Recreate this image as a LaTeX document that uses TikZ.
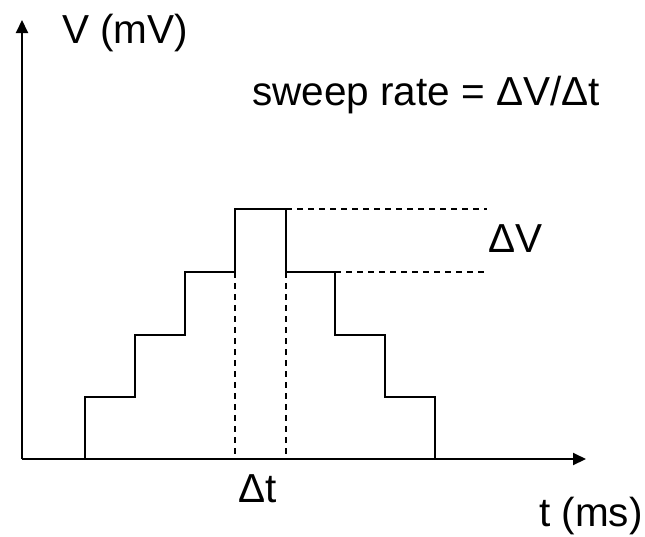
\documentclass[tikz,border=0pt]{standalone}
\usepackage{fontspec}
\setmainfont{Liberation Sans}
\usetikzlibrary{arrows.meta}

\begin{document}
\begin{tikzpicture}[
    x=1pt, y=-1pt,
    every node/.style={inner sep=0pt, anchor=base west, font=\fontsize{40.5}{46}\selectfont},
    axis/.style={line width=2pt, -{Triangle[length=13pt, width=12pt]}},
    stairs/.style={line width=2pt, line join=miter},
    guide/.style={line width=1.6pt, dash pattern=on 6pt off 5pt}
]
\useasboundingbox (0,0) rectangle (645,536);

% Coordinates
\coordinate (o) at (22,459);
\coordinate (ytip) at (22,20);
\coordinate (xtip) at (586,459);

% Labels
\node (vlab) at (62,43) {V (mV)};
\node (rate) at (252,105) {sweep rate = ΔV/Δt};
\node (dv) at (488,252) {ΔV};
\node (dt) at (238,502) {Δt};
\node (tlab) at (539,526) {t (ms)};

% Axes
\draw[axis] (o) -- (ytip);
\draw[axis] (o) -- (xtip);

% Staircase
\draw[stairs] (85,459) -- (85,397) -- (135,397) -- (135,335) -- (185,335) -- (185,272)
    -- (235,272) -- (235,209) -- (286,209) -- (286,272) -- (335,272) -- (335,335)
    -- (385,335) -- (385,397) -- (435,397) -- (435,459);

% Guides
\draw[guide] (235,272) -- (235,459);
\draw[guide] (286,272) -- (286,459);
\draw[guide] (286,209) -- (487,209);
\draw[guide] (335,272) -- (487,272);

\end{tikzpicture}
\end{document}
